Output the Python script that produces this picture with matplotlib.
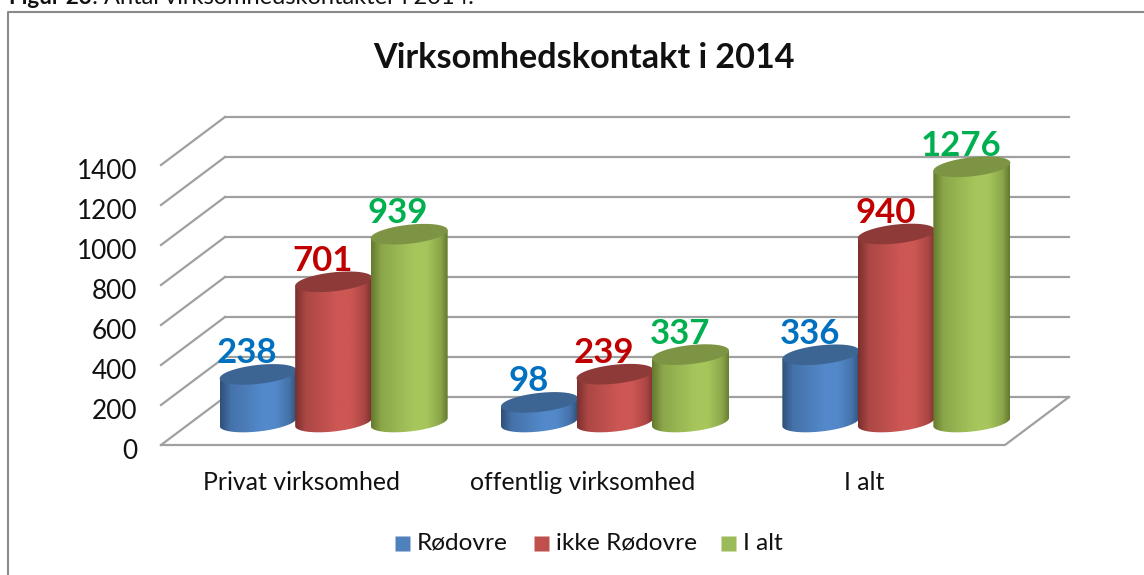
import numpy as np
import matplotlib
matplotlib.use('Agg')
import matplotlib.pyplot as plt
from matplotlib.colors import LinearSegmentedColormap, to_rgb
from matplotlib.patches import Polygon

plt.rcParams['font.family'] = ['Lato', 'DejaVu Sans']

categories = ['Privat virksomhed', 'offentlig virksomhed', 'I alt']
series_names = ['Rødovre', 'ikke Rødovre', 'I alt']
rodovre = [238, 98, 336]
ikke_rodovre = [701, 239, 940]
i_alt = [939, 337, 1276]
y_ticks = [0, 200, 400, 600, 800, 1000, 1200, 1400]

# edge, middle, top
bar_colors = [['#2f4f78', '#5389ca', '#3d6594'],
              ['#7a2f2d', '#cd5754', '#8e3a38'],
              ['#64792f', '#a6c65c', '#7d9445']]
legend_colors = ['#4f81bd', '#c0504d', '#9bbb59']
label_colors = ['#0070c0', '#c00000', '#00b050']
grid_color = '#a0a0a0'

W, H = 1144, 575
CAT_PX = 281.33  # pixels per category
VAL_PX = 0.2     # pixels per value unit
DEPTH_X = 64 / CAT_PX
DEPTH_Y = 48 / VAL_PX
BAR_W = 75.5 / CAT_PX
ELL_A = 38.5 / CAT_PX
ELL_B = 9.5 / VAL_PX
TILT = 0.105

fig = plt.figure(figsize=(W / 100, H / 100), dpi=100)
ax = fig.add_axes([0, 0, 1, 1])
ax.set_xlim((0 - 301.67) / CAT_PX, (W - 301.67) / CAT_PX)
ax.set_ylim((445 - H) / VAL_PX, 445 / VAL_PX)
ax.axis('off')


def ellipse(cx, cy):
    t = np.linspace(0, 2 * np.pi, 80)
    ex = ELL_A * np.cos(t)
    ey = ELL_B * np.sin(t) + ex * CAT_PX * TILT / VAL_PX
    return np.column_stack([cx + ex, cy + ey])


def draw_cylinder(cx, base, value, colors, z):
    cy = base + value
    t = np.linspace(np.pi, 2 * np.pi, 40)
    ex = ELL_A * np.cos(t)
    low = ELL_B * np.sin(t) + ex * CAT_PX * TILT / VAL_PX
    body = np.vstack([
        np.column_stack([cx + ex, base + low]),
        np.column_stack([cx + ex[::-1], cy + (ex * CAT_PX * TILT / VAL_PX)[::-1]]),
    ])
    edge = np.array(to_rgb(colors[0]))
    mid = np.array(to_rgb(colors[1]))
    blend = edge * 0.4 + mid * 0.6
    cmap = LinearSegmentedColormap.from_list('c', [(0, edge), (0.14, blend), (0.55, mid), (0.72, mid), (0.9, blend), (1, edge)])
    grad = np.linspace(0, 1, 256).reshape(1, -1)
    im = ax.imshow(grad, cmap=cmap, aspect='auto', zorder=z,
                   extent=[cx - ELL_A, cx + ELL_A, base - 2 * ELL_B, cy + 2 * ELL_B])
    clip = Polygon(body, closed=True, transform=ax.transData)
    im.set_clip_path(clip)
    ax.add_patch(Polygon(ellipse(cx, cy), closed=True, fc=colors[2], ec='none', zorder=z + 0.1))


# walls and floor
x_left = -0.5
x_right = len(categories) - 0.5
for v in y_ticks:
    ax.plot([x_left, x_left + DEPTH_X], [v, v + DEPTH_Y], color=grid_color, lw=1.6, zorder=1)
    ax.plot([x_left + DEPTH_X, x_right + DEPTH_X], [v + DEPTH_Y, v + DEPTH_Y], color=grid_color, lw=1.6, zorder=1)
    ax.text(x_left - 0.085, v - 33, str(v), ha='right', va='center', fontsize=18.8, color='#111111')
ax.plot([x_left, x_right, x_right + DEPTH_X], [0, 0, DEPTH_Y], color=grid_color, lw=1.6, zorder=1)

# cylinders
all_values = [rodovre, ikke_rodovre, i_alt]
base = DEPTH_Y / 2 - 5
for i, cat in enumerate(categories):
    ax.text(i, -188, cat, ha='center', va='center', fontsize=17.9, color='#111111')
    for j, vals in enumerate(all_values):
        cx = i + DEPTH_X / 2 + (j - 1) * BAR_W
        draw_cylinder(cx, base, vals[i], bar_colors[j], 3 + j)
        ax.text(cx - 11 / CAT_PX, base + vals[i] + 105, str(vals[i]), ha='center', va='center',
                fontsize=25, fontweight='bold', color=label_colors[j], zorder=8)

# legend
leg_x = [(394 - 301.67) / CAT_PX, (533 - 301.67) / CAT_PX, (721 - 301.67) / CAT_PX]
for x, name, c in zip(leg_x, series_names, legend_colors):
    ax.plot([x + 7.5 / CAT_PX], [(445 - 542.5) / VAL_PX], 's', ms=10.8, color=c, mec='none')
    ax.text(x + 22.5 / CAT_PX, (445 - 543) / VAL_PX, name, ha='left', va='center', fontsize=17.6, color='#111111')

# title, caption and outer frame
fig.text(583.5 / W, 1 - 58 / H, 'Virksomhedskontakt i 2014', ha='center', va='center', fontsize=24.6, fontweight='bold', color='#111111')
fig.text(9 / W, 1 - 4 / H, 'Figur 23', ha='left', va='baseline', fontsize=16.2, fontweight='bold', color='#111111')
fig.text(92 / W, 1 - 4 / H, ': Antal virksomhedskontakter i 2014.', ha='left', va='baseline', fontsize=17, color='#111111')
fig.add_artist(plt.Line2D([8 / W, 8 / W, 1], [0, 1 - 12 / H, 1 - 12 / H], color='#8a8a8a', lw=1.5))

fig.savefig('out.png', dpi=100)
